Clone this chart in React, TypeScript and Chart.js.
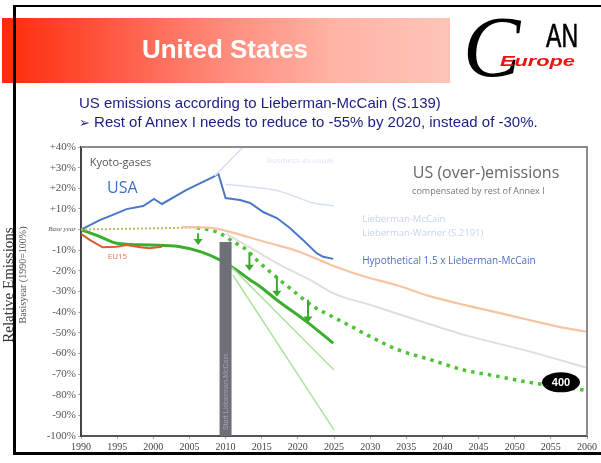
import React, { useEffect, useRef } from "react";
import { Chart, registerables } from "chart.js";
Chart.register(...registerables);

// ---------------- data ----------------
const X_MIN = 1990;
const X_MAX = 2060;
const X_STEP = 5;
const Y_MIN = -100;
const Y_MAX = 40;
const Y_STEP = 10;
const BASE_LABEL = "Base year";

const usaYears = [1990, 1992.6, 1995, 1996.3, 1998.6, 2000.1, 2001.2, 2004.6, 2008.3, 2009, 2010, 2012, 2013.4, 2015.2, 2017.1, 2018.9, 2020.7, 2022.6, 2023.5, 2024.9];
const usaValues = [0, 4.6, 8, 9.9, 11.4, 14.8, 12.4, 19.2, 25.5, 27, 15.3, 14.3, 12.9, 8.5, 5.6, 0.8, -5, -11.4, -13.2, -14.2];

const bauYears = [2008.5, 2013];
const bauValues = [26, 42];

const lwYears = [2010, 2014, 2017, 2020, 2022, 2025];
const lwValues = [22, 20.5, 19, 15.5, 13, 11.5];

const eu15Years = [1990, 1991.2, 1993, 1994.9, 1996.3, 1998.2, 1999.5, 2001.2];
const eu15Values = [-2, -5, -8.6, -8.3, -7.5, -8.6, -9, -8.3];

const annexYears = [1990, 1995, 2000, 2006];
const annexValues = [0, 0.3, 0.6, 1];

const orangeYears = [2004, 2008, 2011, 2013, 2016, 2020, 2024.5, 2029, 2033.7, 2038, 2043, 2048, 2052, 2056, 2060];
const orangeValues = [1.2, 0.8, -1.5, -3.5, -6.5, -10.5, -17, -22.5, -27, -32, -36.5, -40.5, -43.8, -47, -49.5];

const grayYears = [2010, 2014, 2018, 2022, 2025, 2030, 2034, 2043, 2052, 2060];
const grayValues = [-2, -10, -18, -25, -31, -36.5, -41, -51, -59, -67];

const greenYears = [1990, 1992.6, 1994.9, 1999.5, 2003.5, 2006.5, 2009.2, 2011.5, 2013.4, 2014.8, 2017.1, 2021.2, 2024.9];
const greenValues = [0, -3.4, -6.6, -7.5, -8.2, -10.7, -14.7, -19.6, -24.4, -27.7, -34.1, -44.6, -55];

const hypoYears = [2006, 2009, 2011, 2013, 2014.3, 2017.5, 2020, 2022, 2024.4, 2027.7, 2029, 2033.7, 2038.3, 2042.9, 2047.5, 2052, 2056, 2060];
const hypoValues = [1, -1.5, -5.8, -10, -14.7, -24.4, -31.5, -37, -41.5, -47.5, -50, -58, -63, -68, -71, -74, -76, -78];

const lightAYears = [2010.5, 2025];
const lightAValues = [-17, -68];
const lightBYears = [2011, 2025];
const lightBValues = [-22, -97];

const arrowYears = [2006.2, 2013.3, 2017.1, 2021.4];
const arrowFrom = [-1.8, -11, -23, -34];
const arrowTo = [-7.5, -20, -32.5, -45];

const BAR_YEAR = 2010;
const BAR_TOP = -6;
const BAR_TEXT = "Start Lieberman-McCain";

const BUBBLE_YEAR = 2056.4;
const BUBBLE_VALUE = -74;
const BUBBLE_TEXT = "400";

const noteTexts = [
  "Kyoto-gases",
  "USA",
  "EU15",
  "Business-as-usual",
  "US (over-)emissions",
  "compensated by rest of Annex I",
  "Lieberman-McCain",
  "Lieberman-Warner (S.2191)",
  "Hypothetical 1.5 x Lieberman-McCain",
];
const noteYears = [1991.2, 1993.6, 1993.7, 2015.7, 2035.9, 2035.8, 2028.9, 2028.9, 2028.9];
const noteValues = [32.3, 19.7, -13.3, 33.2, 27.4, 18.7, 5.1, -1.6, -15.2];

// ---------------- helpers ----------------
const pts = (xs: number[], ys: number[]) => xs.map((x, i) => ({ x, y: ys[i] }));

const noteStyles = [
  { color: "#555", size: 11, w: 67 },
  { color: "#3d6fc4", size: 16, w: 31 },
  { color: "#e8704a", size: 8, w: 20 },
  { color: "#dde5f5", size: 8, w: 70 },
  { color: "#666", size: 16, w: 155 },
  { color: "#777", size: 9, w: 156 },
  { color: "#c6d3ef", size: 9.5, w: 95 },
  { color: "#c6d3ef", size: 9.5, w: 158 },
  { color: "#4f70c4", size: 10, w: 190 },
];

const overlayPlugin = {
  id: "overlay",
  afterDatasetsDraw(chart: any) {
    const { ctx, chartArea: a, scales } = chart;
    const x = scales.x;
    const y = scales.y;
    ctx.save();

    // vertical bar at 2010
    const bx = x.getPixelForValue(BAR_YEAR);
    const bt = y.getPixelForValue(BAR_TOP);
    const bb = y.getPixelForValue(Y_MIN);
    ctx.fillStyle = "#6f6f7a";
    ctx.fillRect(bx - 6, bt, 12, bb - bt);
    ctx.save();
    ctx.translate(bx, bb - 6);
    ctx.rotate(-Math.PI / 2);
    ctx.fillStyle = "#a4a4b0";
    ctx.font = "7px 'Liberation Sans'";
    ctx.textBaseline = "middle";
    ctx.textAlign = "left";
    ctx.fillText(BAR_TEXT, 0, 0);
    ctx.restore();

    // arrows
    ctx.strokeStyle = "#3aaa2e";
    ctx.fillStyle = "#3aaa2e";
    ctx.lineWidth = 2;
    arrowYears.forEach((yr, i) => {
      const px = x.getPixelForValue(yr);
      const p0 = y.getPixelForValue(arrowFrom[i]);
      const p1 = y.getPixelForValue(arrowTo[i]);
      ctx.beginPath();
      ctx.moveTo(px, p0);
      ctx.lineTo(px, p1 - 4);
      ctx.stroke();
      ctx.beginPath();
      ctx.moveTo(px - 4.5, p1 - 6);
      ctx.lineTo(px + 4.5, p1 - 6);
      ctx.lineTo(px, p1);
      ctx.closePath();
      ctx.fill();
    });

    // bubble
    const ex = x.getPixelForValue(BUBBLE_YEAR);
    const ey = y.getPixelForValue(BUBBLE_VALUE);
    ctx.fillStyle = "#000";
    ctx.beginPath();
    ctx.ellipse(ex, ey, 19, 10, 0, 0, Math.PI * 2);
    ctx.fill();
    ctx.fillStyle = "#fff";
    ctx.font = "bold 11px 'Liberation Sans'";
    ctx.textAlign = "center";
    ctx.textBaseline = "middle";
    ctx.fillText(BUBBLE_TEXT, ex, ey + 0.5);

    // top and right border
    ctx.strokeStyle = "#8c8c8c";
    ctx.lineWidth = 2;
    ctx.beginPath();
    ctx.moveTo(a.left, a.top);
    ctx.lineTo(a.right, a.top);
    ctx.lineTo(a.right, a.bottom);
    ctx.stroke();

    // notes
    ctx.textAlign = "left";
    ctx.textBaseline = "middle";
    noteTexts.forEach((t, i) => {
      const s = noteStyles[i];
      ctx.fillStyle = s.color;
      ctx.font = `${s.size}px 'Open Sans'`;
      ctx.fillText(t, x.getPixelForValue(noteYears[i]), y.getPixelForValue(noteValues[i]), s.w);
    });
    ctx.restore();
  },
};

export default function App() {
  const ref = useRef<HTMLCanvasElement | null>(null);

  useEffect(() => {
    if (!ref.current) return;
    const line = (data: any, color: string, width: number, extra: any = {}) => ({
      type: "line",
      data,
      borderColor: color,
      backgroundColor: color,
      borderWidth: width,
      pointRadius: 0,
      fill: false,
      tension: 0,
      ...extra,
    });
    const smooth = { cubicInterpolationMode: "monotone" };
    const chart = new Chart(ref.current, {
      type: "line",
      data: {
        datasets: [
          line(pts(grayYears, grayValues), "#dedede", 2, smooth),
          line(pts(orangeYears, orangeValues), "#f7c4a2", 2.2, smooth),
          line(pts(bauYears, bauValues), "#d8e2f4", 1.5),
          line(pts(lwYears, lwValues), "#d6e0f3", 1.5, smooth),
          line(pts(lightAYears, lightAValues), "#ace39c", 1.5),
          line(pts(lightBYears, lightBValues), "#ace39c", 1.5),
          line(pts(annexYears, annexValues), "#c4b870", 2, { borderDash: [2, 2] }),
          line(pts(eu15Years, eu15Values), "#e05a30", 2),
          line(pts(greenYears, greenValues), "#3cae2e", 3, smooth),
          line(pts(hypoYears, hypoValues), "#4cc434", 3.5, { ...smooth, borderDash: [3.5, 5] }),
          line(pts(usaYears, usaValues), "#4a78c8", 2),
        ],
      },
      options: {
        responsive: false,
        animation: false,
        events: [],
        layout: { padding: { left: 0, top: 147, right: 14, bottom: 7 } },
        plugins: { legend: { display: false }, tooltip: { enabled: false } },
        scales: {
          x: {
            type: "linear",
            min: X_MIN,
            max: X_MAX,
            offset: false,
            ticks: {
              stepSize: X_STEP,
              autoSkip: false,
              maxRotation: 0,
              color: "#444",
              padding: 2,
              font: { family: "'Liberation Serif'", size: 10 },
              callback: (v: any) => String(v),
            },
            grid: { display: true, drawOnChartArea: false, tickLength: 3, color: "#aaa", offset: false },
            border: { display: true, color: "#555", width: 2 },
            afterFit: (s: any) => {
              s.height = 20;
            },
          },
          y: {
            type: "linear",
            min: Y_MIN,
            max: Y_MAX,
            ticks: {
              stepSize: Y_STEP,
              autoSkip: false,
              color: "#555",
              padding: 2,
              font: (c: any) =>
                c.tick && c.tick.value === 0
                  ? { family: "'Liberation Serif'", size: 7, style: "italic" }
                  : { family: "'Liberation Serif'", size: 11 },
              callback: (v: any) => (v === 0 ? BASE_LABEL : (v > 0 ? "+" : "") + v + "%"),
            },
            grid: { display: true, drawOnChartArea: false, tickLength: 3, color: "#aaa" },
            border: { display: true, color: "#444", width: 2 },
            afterFit: (s: any) => {
              s.width = 81;
            },
          },
        },
      },
      plugins: [overlayPlugin],
    } as any);
    return () => chart.destroy();
  }, []);

  const abs = (o: any): React.CSSProperties => ({ position: "absolute", ...o });

  return (
    <div style={abs({ left: 0, top: 0, width: 601, height: 463, background: "#fff", overflow: "hidden", fontFamily: "'Liberation Sans', Arial, sans-serif" })}>
      <canvas ref={ref} width={601} height={463} style={abs({ left: 0, top: 0, width: 601, height: 463 })} />
      {/* title bar */}
      <div
        style={abs({
          left: 2,
          top: 18,
          width: 448,
          height: 65,
          background: "linear-gradient(90deg, #ff2a08 0%, #ff5a44 25%, #ff8c7c 50%, #ffb4a6 75%, #ffc4b8 100%)",
        })}
      />
      <div style={abs({ left: 0, width: 450, top: 36, textAlign: "center", color: "#fff", fontWeight: 700, fontSize: 26, lineHeight: "26px", whiteSpace: "nowrap" })}>
        United States
      </div>
      {/* logo */}
      <div style={abs({ left: 463, top: 4, fontFamily: "'Liberation Serif', serif", fontStyle: "italic", fontSize: 86, lineHeight: "86px", color: "#000" })}>C</div>
      <div style={abs({ left: 546, top: 19, fontSize: 33, lineHeight: "33px", color: "#000", transform: "scaleX(0.7)", transformOrigin: "left top", WebkitTextStroke: "0.6px #000" })}>AN</div>
      <div style={abs({ left: 500, top: 53, fontSize: 15, lineHeight: "15px", fontWeight: 700, fontStyle: "italic", color: "#ee1414", transform: "scaleX(1.45)", transformOrigin: "left top" })}>Europe</div>
      {/* subtitle */}
      <div style={abs({ left: 79, top: 93, fontSize: 15, lineHeight: "19px", color: "#1c1c84", whiteSpace: "nowrap" })}>
        US emissions according to Lieberman-McCain (S.139)
        <br />
        <span style={{ fontFamily: "'DejaVu Sans'", fontSize: 13 }}>➢</span> Rest of Annex I needs to reduce to -55% by 2020, instead of -30%.
      </div>
      {/* axis titles */}
      <div style={abs({ left: 8, top: 285, transform: "translate(-50%, -50%) rotate(-90deg)", whiteSpace: "nowrap", fontFamily: "'Liberation Serif', serif", fontSize: 15, color: "#333" })}>
        Relative Emissions
      </div>
      <div style={abs({ left: 22, top: 275, transform: "translate(-50%, -50%) rotate(-90deg)", whiteSpace: "nowrap", fontFamily: "'Liberation Serif', serif", fontSize: 10, color: "#555" })}>
        Basisyear (1990=100%)
      </div>
      {/* frame */}
      <div style={abs({ left: 13, top: 5, width: 588, height: 2, background: "#000" })} />
      <div style={abs({ left: 13, top: 5, width: 3, height: 450, background: "#000" })} />
      <div style={abs({ left: 13, top: 452, width: 588, height: 3, background: "#000" })} />
    </div>
  );
}
